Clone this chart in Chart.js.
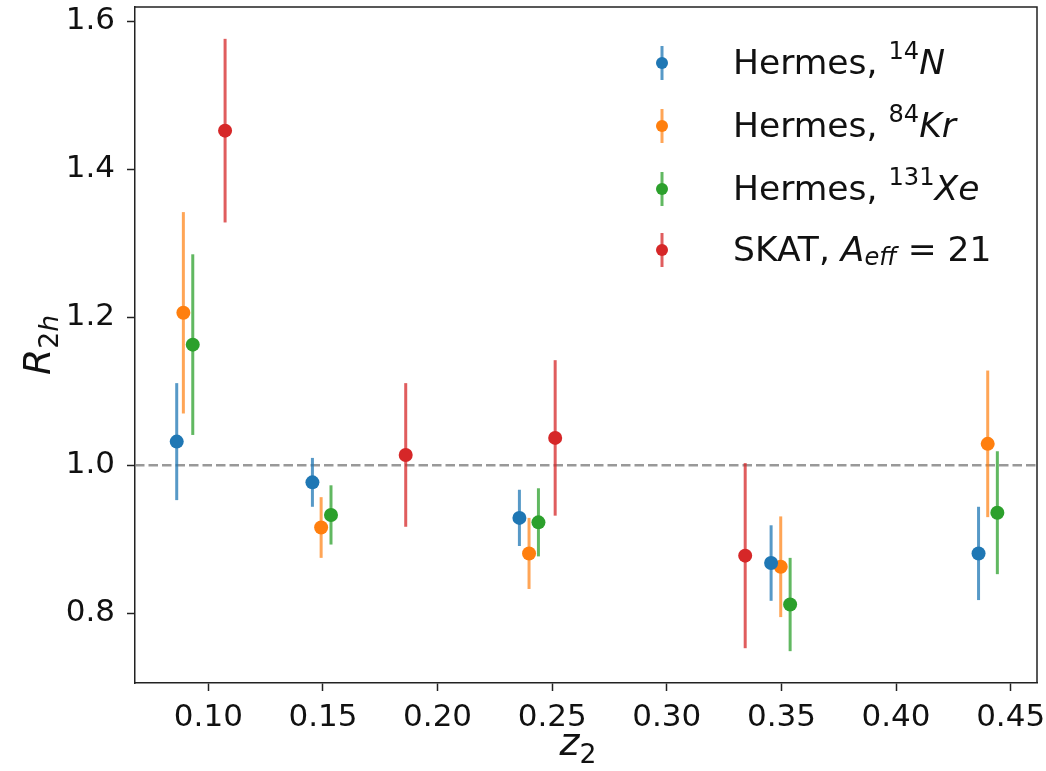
<!DOCTYPE html>
<html>
<head>
<meta charset="utf-8">
<script src="https://cdn.jsdelivr.net/npm/chart.js@4/dist/chart.umd.min.js"></script>
<style>
  html, body { margin: 0; padding: 0; background: #fff; }
  #chart { display: block; }
</style>
</head>
<body>
<canvas id="chart" width="1046" height="771"></canvas>
<script>
// tick positions
const xTicks = [0.10, 0.15, 0.20, 0.25, 0.30, 0.35, 0.40, 0.45];
const yTicks = [0.8, 1.0, 1.2, 1.4, 1.6];
const refLine = 1.0;

// Hermes, 14N
const nZ   = [0.0862, 0.1454, 0.2357, 0.3455, 0.4360];
const nR   = [1.032, 0.977, 0.929, 0.868, 0.881];
const nErr = [0.079, 0.033, 0.038, 0.051, 0.063];

// Hermes, 84Kr
const krZ   = [0.0891, 0.1492, 0.2399, 0.3497, 0.4400];
const krR   = [1.206, 0.916, 0.881, 0.863, 1.029];
const krErr = [0.136, 0.041, 0.048, 0.068, 0.099];

// Hermes, 131Xe
const xeZ   = [0.0932, 0.1535, 0.2440, 0.3538, 0.4442];
const xeR   = [1.163, 0.933, 0.923, 0.812, 0.936];
const xeErr = [0.122, 0.040, 0.046, 0.063, 0.083];

// SKAT, A_eff = 21
const skatZ   = [0.1073, 0.1861, 0.2513, 0.3342];
const skatR   = [1.452, 1.014, 1.037, 0.878];
const skatErr = [0.124, 0.097, 0.105, 0.125];

// legend labels as rich text pieces
const labelN    = [{t: 'Hermes, '}, {t: '14', sup: true}, {t: 'N', it: true}];
const labelKr   = [{t: 'Hermes, '}, {t: '84', sup: true}, {t: 'Kr', it: true}];
const labelXe   = [{t: 'Hermes, '}, {t: '131', sup: true}, {t: 'Xe', it: true}];
const labelSkat = [{t: 'SKAT, '}, {t: 'A', it: true}, {t: 'eff', it: true, sub: true}, {t: ' = 21'}];

const FONT = '"DejaVu Sans", sans-serif';

function makeSet(zs, rs, errs, color, barColor, label) {
    return {
        label: label,
        data: zs.map((z, i) => ({x: z, y: rs[i], err: errs[i]})),
        backgroundColor: color,
        borderWidth: 0,
        pointRadius: 7,
        barColor: barColor
    };
}

const datasets = [
    makeSet(nZ, nR, nErr, '#1f77b4', 'rgba(31,119,180,0.75)', labelN),
    makeSet(krZ, krR, krErr, '#ff7f0e', 'rgba(255,127,14,0.7)', labelKr),
    makeSet(xeZ, xeR, xeErr, '#2ca02c', 'rgba(44,160,44,0.75)', labelXe),
    makeSet(skatZ, skatR, skatErr, '#d62728', 'rgba(214,39,40,0.75)', labelSkat)
];

// draws a list of text pieces with sub/superscripts, returns width
function drawRich(ctx, segs, x, y, size, measureOnly) {
    let cx = x;
    for (const s of segs) {
        const small = s.sup || s.sub;
        const fs = small ? size * 0.7 : size;
        ctx.font = (s.it ? 'italic ' : '') + fs + 'px ' + FONT;
        let dy = 0;
        if (s.sup) dy = -size * 0.36;
        if (s.sub) dy = size * 0.2;
        if (!measureOnly) ctx.fillText(s.t, cx, y + dy);
        cx += ctx.measureText(s.t).width;
    }
    return cx - x;
}

// no extra room for the outer tick labels
function noPad(s) {
    s.paddingLeft = 0;
    s.paddingRight = 0;
    s.paddingTop = 0;
    s.paddingBottom = 0;
}

const errorBars = {
    id: 'errorBars',
    beforeDatasetsDraw(chart) {
        const ctx = chart.ctx;
        const xs = chart.scales.x, ys = chart.scales.y;
        const area = chart.chartArea;

        // dashed reference line
        ctx.save();
        ctx.strokeStyle = 'rgba(128,128,128,0.8)';
        ctx.lineWidth = 2.5;
        ctx.setLineDash([9.5, 4]);
        const yRef = ys.getPixelForValue(refLine);
        ctx.beginPath();
        ctx.moveTo(area.left, yRef);
        ctx.lineTo(area.right, yRef);
        ctx.stroke();
        ctx.restore();

        ctx.save();
        ctx.lineWidth = 3;
        chart.data.datasets.forEach(ds => {
            ctx.strokeStyle = ds.barColor;
            ds.data.forEach(p => {
                const px = xs.getPixelForValue(p.x);
                ctx.beginPath();
                ctx.moveTo(px, ys.getPixelForValue(p.y - p.err));
                ctx.lineTo(px, ys.getPixelForValue(p.y + p.err));
                ctx.stroke();
            });
        });
        ctx.restore();
    },
    afterDraw(chart) {
        const ctx = chart.ctx;
        const area = chart.chartArea;

        // remaining sides of the axes box
        ctx.save();
        ctx.strokeStyle = '#222';
        ctx.lineWidth = 1.5;
        ctx.beginPath();
        ctx.moveTo(area.left, area.top);
        ctx.lineTo(area.right, area.top);
        ctx.lineTo(area.right, area.bottom);
        ctx.stroke();
        ctx.restore();

        // legend
        ctx.save();
        ctx.textBaseline = 'middle';
        ctx.fillStyle = '#111';
        const rowY = [63, 126, 189, 250];
        chart.data.datasets.forEach((ds, i) => {
            const y = rowY[i];
            ctx.strokeStyle = ds.barColor;
            ctx.lineWidth = 3;
            ctx.beginPath();
            ctx.moveTo(662, y - 17);
            ctx.lineTo(662, y + 17);
            ctx.stroke();
            ctx.fillStyle = ds.backgroundColor;
            ctx.beginPath();
            ctx.arc(662, y, 6, 0, Math.PI * 2);
            ctx.fill();
            ctx.fillStyle = '#111';
            drawRich(ctx, ds.label, 733, y + 2, 34.5);
        });
        ctx.restore();

        // axis titles
        ctx.save();
        ctx.fillStyle = '#111';
        ctx.textBaseline = 'alphabetic';
        const xTitle = [{t: 'z', it: true}, {t: '2', sub: true}];
        const xw = drawRich(ctx, xTitle, 0, 0, 38, true);
        drawRich(ctx, xTitle, (area.left + area.right) / 2 - xw / 2 - 8, 755, 38);

        const yTitle = [{t: 'R', it: true}, {t: '2', sub: true}, {t: 'h', it: true, sub: true}];
        const yw = drawRich(ctx, yTitle, 0, 0, 38, true);
        ctx.translate(50, (area.top + area.bottom) / 2);
        ctx.rotate(-Math.PI / 2);
        drawRich(ctx, yTitle, -yw / 2, 0, 38);
        ctx.restore();
    }
};

new Chart(document.getElementById('chart'), {
    type: 'scatter',
    data: { datasets: datasets },
    options: {
        responsive: false,
        animation: false,
        layout: { padding: { top: 7, right: 9, left: 0, bottom: 0 } },
        plugins: {
            legend: { display: false },
            tooltip: { enabled: false }
        },
        scales: {
            x: {
                type: 'linear',
                min: 0.068,
                max: 0.4615,
                afterBuildTicks: s => { s.ticks = xTicks.map(v => ({value: v})); },
                afterFit: s => { s.height = 88; noPad(s); },
                ticks: {
                    callback: v => v.toFixed(2),
                    font: { family: FONT, size: 31 },
                    color: '#111',
                    padding: 8,
                    maxRotation: 0
                },
                grid: { drawOnChartArea: false, drawTicks: true, tickLength: 8, tickColor: '#222', tickWidth: 1.5 },
                border: { color: '#222', width: 1.5 }
            },
            y: {
                type: 'linear',
                min: 0.706,
                max: 1.619,
                afterBuildTicks: s => { s.ticks = yTicks.map(v => ({value: v})); },
                afterFit: s => { s.width = 135; noPad(s); },
                ticks: {
                    callback: v => v.toFixed(1),
                    font: { family: FONT, size: 31 },
                    color: '#111',
                    padding: 12
                },
                grid: { drawOnChartArea: false, drawTicks: true, tickLength: 8, tickColor: '#222', tickWidth: 1.5 },
                border: { color: '#222', width: 1.5 }
            }
        }
    },
    plugins: [errorBars]
});
</script>
</body>
</html>
